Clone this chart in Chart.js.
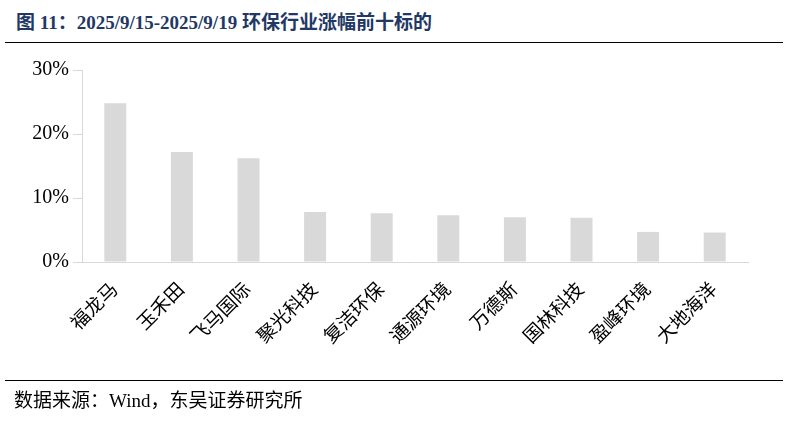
<!DOCTYPE html>
<html>
<head>
<meta charset="utf-8">
<script src="https://cdn.jsdelivr.net/npm/chart.js@4.4.1/dist/chart.umd.min.js"></script>
<style>
  html, body { margin: 0; padding: 0; background: #fff; }
  body { width: 796px; height: 425px; position: relative; overflow: hidden; }
  .title { position: absolute; left: 16px; top: 7px; font: bold 19px "Liberation Serif", "Noto Sans CJK SC", serif; color: #1f3864; white-space: nowrap; }
  .rule { position: absolute; left: 5px; width: 778px; height: 1px; background: #000; }
  .src { position: absolute; left: 14px; top: 385px; font: 19px "Liberation Serif", "Noto Sans CJK SC", serif; color: #000; white-space: nowrap; }
  #wrap { position: absolute; left: 0; top: 0; width: 796px; height: 425px; }
</style>
</head>
<body>
<div class="title">图 11：2025/9/15-2025/9/19 环保行业涨幅前十标的</div>
<div class="rule" style="top:42px"></div>
<div id="wrap"><canvas id="chartTop10"></canvas></div>
<div class="rule" style="top:380px"></div>
<div class="src">数据来源：Wind，东吴证券研究所</div>
<script>
// ===== 环保行业涨幅前十 =====
const categorias = ['福龙马', '玉禾田', '飞马国际', '聚光科技', '复洁环保', '通源环境', '万德斯', '国林科技', '盈峰环境', '大地海洋'];
const valores = [24.8, 17.2, 16.2, 7.8, 7.6, 7.3, 7.0, 6.9, 4.7, 4.6];
const ticksY = [0, 10, 20, 30];

const FONT_TXT = '"Liberation Serif", "Noto Sans CJK SC", serif';

new Chart(document.getElementById('chartTop10'), {
  type: 'bar',
  data: {
    labels: categorias,
    datasets: [{
      data: valores,
      backgroundColor: '#d9d9d9',
      borderWidth: 0,
      categoryPercentage: 1,
      barPercentage: 0.33,
    }],
  },
  options: {
    responsive: true,
    maintainAspectRatio: false,
    animation: false,
    layout: { padding: { top: 70, right: 48, left: 0, bottom: 0 } },
    plugins: { legend: { display: false }, tooltip: { enabled: false } },
    scales: {
      x: {
        grid: { display: false },
        border: { color: '#d9d9d9', width: 1 },
        ticks: {
          color: '#000',
          font: { family: FONT_TXT, size: 19 },
          minRotation: 45,
          maxRotation: 45,
          padding: 9,
        },
        afterFit: s => { s.height = 163; },
      },
      y: {
        min: 0,
        max: 30,
        afterBuildTicks: s => { s.ticks = ticksY.map(v => ({ value: v })); },
        grid: { drawOnChartArea: false, color: '#d9d9d9', tickLength: 9 },
        border: { color: '#d9d9d9', width: 1 },
        ticks: {
          color: '#000',
          font: { family: FONT_TXT, size: 20 },
          padding: 4,
          callback: v => v + '%',
        },
        afterFit: s => { s.width = 82; },
      },
    },
  },
});
</script>
</body>
</html>
